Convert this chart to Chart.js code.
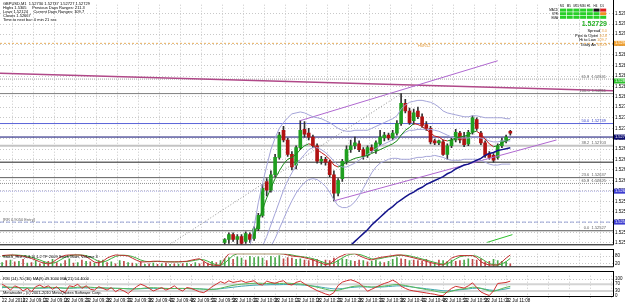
<!DOCTYPE html>
<html>
<head>
<meta charset="utf-8">
<script src="https://cdn.jsdelivr.net/npm/chart.js@4.4.1/dist/chart.umd.min.js"></script>
<style>
  body { margin: 0; background: #fff; }
  #wrap { position: relative; width: 625px; height: 304px; overflow: hidden; }
  canvas { position: absolute; left: 0; }
</style>
</head>
<body>
<div id="wrap">
  <canvas id="main" width="625" height="249" style="top:0"></canvas>
  <canvas id="stoch" width="625" height="22" style="top:249px"></canvas>
  <canvas id="rsi" width="625" height="33" style="top:271px"></canvas>
</div>
<script>
// ---- data -------------------------------------------------------------
const X_MIN = -0.5, X_MAX = 145.45

const tickLabels = ['22 Jul 2010', '22 Jul 09:13', '22 Jul 09:18', '22 Jul 09:23', '22 Jul 09:28', '22 Jul 09:33',
  '22 Jul 09:38', '22 Jul 09:43', '22 Jul 09:48', '22 Jul 09:53', '22 Jul 09:58', '22 Jul 10:03', '22 Jul 10:08',
  '22 Jul 10:13', '22 Jul 10:18', '22 Jul 10:23', '22 Jul 10:28', '22 Jul 10:33', '22 Jul 10:38', '22 Jul 10:43',
  '22 Jul 10:48', '22 Jul 10:53', '22 Jul 10:58', '22 Jul 11:03', '22 Jul 11:08']

const priceTicks = [1.52977, 1.52955, 1.52934, 1.52912, 1.52891, 1.52869, 1.52847, 1.52826, 1.52804, 1.52783,
  1.52761, 1.52739, 1.52717, 1.52696, 1.52675, 1.52653, 1.52631, 1.52610, 1.52588, 1.52567, 1.52545, 1.52523, 1.52502]

// candles, first one is bar 53 (older bars are below the visible range)
const CANDLE_START = 53
const opens = [1.52503,1.52509,1.52519,1.52509,1.52515,1.52505,1.52519,1.52511,1.52531,1.52559,
  1.52629,1.52611,1.52643,1.52679,1.52735,1.52715,1.52685,1.52663,1.52699,1.52737,
  1.52729,1.52721,1.52703,1.52671,1.52675,1.52669,1.52643,1.52605,1.52635,1.52671,
  1.52695,1.52703,1.52707,1.52695,1.52683,1.52699,1.52693,1.52707,1.52719,1.52725,
  1.52719,1.52729,1.52749,1.52791,1.52775,1.52755,1.52775,1.52763,1.52747,1.52739,
  1.52713,1.52709,1.52711,1.52685,1.52703,1.52715,1.52729,1.52719,1.52707,1.52731,
  1.52757,1.52729,1.52709,1.52687,1.52683,1.52679,1.52703,1.52713,1.52733]
const highs = [1.52511,1.52523,1.52523,1.52519,1.52519,1.52525,1.52523,1.52535,1.52563,1.52623,
  1.52635,1.52651,1.52685,1.52731,1.52743,1.52719,1.52691,1.52703,1.52755,1.52753,
  1.52739,1.52725,1.52707,1.52681,1.52679,1.52673,1.52651,1.52635,1.52675,1.52703,
  1.52715,1.52721,1.52713,1.52699,1.52703,1.52705,1.52713,1.52735,1.52731,1.52729,
  1.52735,1.52755,1.52811,1.52799,1.52781,1.52779,1.52783,1.52769,1.52753,1.52743,
  1.52717,1.52715,1.52715,1.52707,1.52719,1.52737,1.52733,1.52731,1.52735,1.52765,
  1.52761,1.52733,1.52713,1.52691,1.52687,1.52707,1.52719,1.52725,1.52735]
const lows = [1.52495,1.52501,1.52505,1.52497,1.52497,1.52501,1.52503,1.52507,1.52527,1.52555,
  1.52599,1.52607,1.52639,1.52675,1.52711,1.52681,1.52653,1.52655,1.52695,1.52721,
  1.52715,1.52699,1.52667,1.52665,1.52663,1.52639,1.52589,1.52599,1.52629,1.52665,
  1.52689,1.52697,1.52691,1.52675,1.52679,1.52689,1.52687,1.52703,1.52713,1.52715,
  1.52715,1.52725,1.52745,1.52771,1.52747,1.52747,1.52759,1.52741,1.52735,1.52707,
  1.52705,1.52705,1.52683,1.52675,1.52699,1.52711,1.52709,1.52701,1.52703,1.52727,
  1.52735,1.52705,1.52679,1.52675,1.52669,1.52675,1.52699,1.52709,1.52725]
const closes = [1.52509,1.52519,1.52509,1.52515,1.52501,1.52521,1.52509,1.52531,1.52559,1.52615,
  1.52611,1.52643,1.52679,1.52725,1.52715,1.52685,1.52659,1.52699,1.52735,1.52727,
  1.52721,1.52703,1.52671,1.52675,1.52669,1.52643,1.52605,1.52631,1.52671,1.52695,
  1.52703,1.52709,1.52695,1.52681,1.52699,1.52693,1.52709,1.52721,1.52725,1.52719,
  1.52729,1.52749,1.52791,1.52775,1.52751,1.52771,1.52763,1.52745,1.52739,1.52711,
  1.52709,1.52713,1.52685,1.52703,1.52715,1.52731,1.52715,1.52705,1.52731,1.52761,
  1.52739,1.52709,1.52683,1.52679,1.52673,1.52703,1.52713,1.52721,1.52729]

// fast MA (green rising / red falling), starts at bar 60
const MA_START = 60
const maFast = [1.52515,1.52545,1.52571,1.52595,1.52615,1.52635,1.52651,1.52665,1.52675,1.52679,
  1.52685,1.52695,1.52703,1.52707,1.52705,1.52695,1.52689,1.52683,1.52675,1.52663,
  1.52659,1.52663,1.52669,1.52673,1.52677,1.52679,1.52681,1.52683,1.52687,1.52691,
  1.52695,1.52699,1.52703,1.52707,1.52713,1.52725,1.52735,1.52741,1.52749,1.52747,
  1.52743,1.52737,1.52729,1.52723,1.52721,1.52715,1.52713,1.52715,1.52719,1.52721,
  1.52723,1.52725,1.52731,1.52733,1.52727,1.52717,1.52707,1.52701,1.52703,1.52709,
  1.52713,1.52717]

// bollinger bands
const BB_UP_START = 59
const bbUpper = [1.52495,1.52535,1.52585,1.52625,1.52661,1.52695,1.52719,1.52739,1.52751,1.52761,
  1.52769,1.52771,1.52773,1.52771,1.52767,1.52763,1.52761,1.52759,1.52755,1.52751,
  1.52745,1.52739,1.52735,1.52733,1.52733,1.52735,1.52735,1.52735,1.52735,1.52739,
  1.52743,1.52747,1.52751,1.52755,1.52759,1.52765,1.52779,1.52787,1.52793,1.52795,
  1.52797,1.52797,1.52795,1.52793,1.52789,1.52783,1.52775,1.52771,1.52769,1.52767,
  1.52765,1.52763,1.52763,1.52765,1.52765,1.52763,1.52761,1.52761,1.52761,1.52761,
  1.52761,1.52759,1.52759]
const BB_MID_START = 62
const bbMiddle = [1.52495,1.52515,1.52539,1.52563,1.52587,1.52611,1.52631,1.52647,1.52663,1.52675,
  1.52685,1.52695,1.52699,1.52699,1.52695,1.52689,1.52681,1.52671,1.52663,1.52659,
  1.52659,1.52663,1.52667,1.52673,1.52679,1.52685,1.52691,1.52697,1.52703,1.52707,
  1.52711,1.52715,1.52719,1.52725,1.52731,1.52735,1.52735,1.52737,1.52737,1.52737,
  1.52737,1.52735,1.52733,1.52729,1.52725,1.52721,1.52719,1.52719,1.52719,1.52719,
  1.52721,1.52721,1.52719,1.52717,1.52713,1.52711,1.52711,1.52713,1.52713,1.52713]
const BB_LOW_START = 64
const bbLower = [1.52495,1.52511,1.52531,1.52551,1.52571,1.52589,1.52605,1.52617,1.52627,1.52633,
  1.52635,1.52633,1.52627,1.52619,1.52607,1.52591,1.52579,1.52575,1.52575,1.52579,
  1.52587,1.52599,1.52615,1.52631,1.52647,1.52659,1.52667,1.52671,1.52675,1.52677,
  1.52677,1.52675,1.52675,1.52675,1.52677,1.52679,1.52679,1.52681,1.52681,1.52683,
  1.52681,1.52679,1.52675,1.52673,1.52673,1.52673,1.52675,1.52675,1.52675,1.52675,
  1.52673,1.52669,1.52665,1.52663,1.52663,1.52665,1.52665,1.52665]

// slow MA (navy), starts at bar 83
const SLOW_START = 83
const maSlow = [1.52497,1.52505,1.52513,1.52521,1.52529,1.52539,1.52547,1.52555,1.52563,1.52571,
  1.52577,1.52585,1.52591,1.52597,1.52603,1.52607,1.52613,1.52617,1.52623,1.52627,
  1.52631,1.52635,1.52639,1.52645,1.52649,1.52655,1.52659,1.52663,1.52665,1.52669,
  1.52673,1.52677,1.52683,1.52687,1.52689,1.52693,1.52695,1.52697,1.52699]

// horizontal objects
const levelPrices = [1.52915, 1.52841, 1.52811, 1.52749, 1.52721, 1.52703, 1.52669, 1.52637, 1.52625, 1.52609, 1.52545, 1.52527]
const levelTexts = ['', '61.8  1.52841', '100.0  1.52811', '50.0  1.52749', '', '38.2  1.52703', '', '23.6  1.52637', '61.8  1.52625', '', '', '0.0  1.52527']

// trend lines [bar, price]
const channelUpper = [[71, 1.52755], [118, 1.52879]]
const channelLower = [[79, 1.52589], [132, 1.52715]]
const longTrend = [[X_MIN, 1.52853], [X_MAX, 1.52817]]
const fiboBase = [[40, 1.52499], [95, 1.52811]]
const greenRay = [[115.5, 1.52503], [121.5, 1.52519]]

// stochastic panel
const stochMain = [85,88,90,88,85,80,72,62,50,35, 25,18,30,55,75,87,90,90,90,88,
  78,55,33,27,40,65,80,90,88,86, 82,65,48,35,35,37,40,40,37,35,
  35,35,36,38,40,48,55,60,40,18, 10,7,8,60,100,100,100,100,100,100,
  100,100,100,100,100,100,100,98,90,82, 78,75,68,60,50,38,25,12,20,45,
  70,85,100,100,100,85,70,58,50,62, 70,75,80,85,90,90,83,75,67,58,
  50,40,30,22,15,10,35,65,78,85, 85,85,85,70,35,20,10,10,10,35, 65,90]
const stochSignal = [80,84,87,89,88,85,80,72,62,50, 37,27,24,34,53,72,84,89,90,89,
  85,74,56,38,33,44,62,78,86,88, 85,78,65,50,40,36,37,39,39,37,
  36,35,35,36,38,42,48,54,52,40, 23,12,8,25,56,86,100,100,100,100,
  100,100,100,100,100,100,100,99,96,90, 83,78,74,68,60,50,38,25,19,26,
  45,67,85,95,100,95,85,71,59,57, 61,69,75,80,85,88,88,83,75,67,
  58,49,40,31,22,16,20,37,59,76, 83,85,85,80,63,42,22,13,10,18, 37,63]
// histogram: positive = up bar, negative = down bar
const stochHist = [30,-45,50,-35,40,-55,25,-30,45,-20, 35,-40,55,-30,20,-45,60,-25,30,-50,
  40,-35,25,-45,50,-30,35,-20,45,-40, 30,-25,20,-35,15,-20,25,-15,20,-25,
  15,-20,18,-22,25,-15,30,-20,-35,-25, 40,-30,45,60,70,-55,75,65,-50,80,
  70,75,65,-45,80,70,85,-60,-70,-65, 55,60,-50,-45,-60,-55,40,-50,-45,-65,
  50,60,55,45,-40,-50,45,-35,40,50, 35,-30,40,55,70,-60,-55,45,-50,-45,
  -40,-55,-35,30,-50,45,40,50,-40,-45, 50,60,-55,-50,-60,-35,-40,55,45,40, 35,-20]

// rsi panel
const rsiFast = [70,55,35,60,50,30,45,25,55,65, 50,60,40,55,30,20,60,55,70,45,
  60,40,35,55,45,35,50,25,40,30, 15,35,55,70,60,45,30,40,50,35,
  45,60,40,30,50,45,35,25,20,35, 55,70,85,75,90,80,85,90,80,85,
  90,70,65,88,80,75,85,90,70,65, 80,88,72,58,45,32,22,12,5,20,
  62,82,90,96,88,76,55,28,40,52, 64,74,82,94,80,58,45,35,30,26,
  22,18,14,10,4,2,25,45,57,52, 47,60,78,50,24,12,3,30,74,77, 80,88]
const rsiSlow = [55,54,52,51,50,49,48,47,47,48, 50,51,51,50,48,46,47,49,52,53,
  53,52,50,49,48,47,46,46,45,44, 42,41,42,44,47,49,49,48,46,45,
  44,44,45,45,44,43,43,42,40,38, 38,41,46,52,58,63,67,70,72,74,
  75,76,75,74,75,75,74,75,76,74, 72,71,68,63,58,52,46,40,34,31,
  34,40,47,54,58,60,58,55,53,54, 56,59,62,66,68,66,62,57,52,47,
  43,38,34,29,24,21,22,28,35,40, 43,47,52,51,46,38,30,27,35,44, 51,57]
const rsiSignal = [50,50,49,49,48,48,47,47,46,46, 46,47,47,47,47,46,46,46,47,48,
  48,48,48,47,47,46,46,45,45,44, 43,43,43,43,44,45,45,45,45,44,
  44,44,44,44,44,43,43,42,41,40, 40,41,43,46,49,52,55,58,60,62,
  64,65,66,66,67,67,67,68,68,68, 67,66,64,62,59,56,52,48,45,42,
  42,44,47,50,52,54,54,53,52,52, 53,54,56,58,60,60,58,55,52,49,
  46,43,40,37,34,31,30,31,34,37, 39,42,45,46,44,40,36,33,34,38, 42,47]
const rsiLevels = [70, 30]

const infoLines = ['GBPUSD,M1  1.52730 1.52737 1.52727 1.52729',
  'Highs 1.5305     Previous Days Ranges: 211.3',
  'Lows 1.52124     Current Days Ranges: 109.7',
  'Closes 1.52667',
  'Time to next bar: 0 min 21 sec']

// ---- helpers ----------------------------------------------------------
const FONT = '"Liberation Sans", Arial, sans-serif'
const series = (start, vals) => vals.map((v, k) => ({ x: start + k, y: v }))
const pts = arr => arr.map(p => ({ x: p[0], y: p[1] }))
const flat = v => [{ x: X_MIN, y: v }, { x: X_MAX, y: v }]

function line(data, color, width, dash, order) {
  return { type: 'line', data: data, borderColor: color, borderWidth: width || 1,
    borderDash: dash || [], pointRadius: 0, fill: false, tension: 0, order: order || 5 }
}

function xAxis(labels) {
  return {
    type: 'linear', min: X_MIN, max: X_MAX, offset: false,
    grid: { color: '#c8c8c8', drawTicks: !!labels, tickLength: 2 },
    border: { display: false, dash: [1, 2] },
    ticks: labels ? {
      stepSize: 5, includeBounds: false, autoSkip: false, maxRotation: 0, align: 'start', padding: 0,
      color: '#000', font: { family: FONT, size: 4.5 },
      callback: v => (v % 5 === 0 && tickLabels[v / 5]) || ''
    } : { display: false, stepSize: 5, includeBounds: false },
    afterFit: s => { s.height = labels ? 8 : 0 }
  }
}

function yAxis(min, max, ticks, fmt) {
  return {
    position: 'right', min: min, max: max,
    grid: { color: '#c8c8c8', drawTicks: false },
    border: { display: false, dash: [1, 2] },
    ticks: { autoSkip: false, padding: 2, color: '#000', font: { family: FONT, size: 4.5 }, callback: fmt },
    afterBuildTicks: s => { s.ticks = ticks.map(v => ({ value: v })) },
    afterFit: s => { s.width = 12 }
  }
}

// frame of each pane: thick black separators like the terminal
function frame(topWidth) {
  return {
    id: 'frame',
    afterDraw(chart) {
      const { ctx, chartArea: a } = chart
      ctx.save()
      ctx.strokeStyle = '#000'
      ctx.lineWidth = 1
      ctx.beginPath()
      ctx.moveTo(a.right + 0.5, 0); ctx.lineTo(a.right + 0.5, a.bottom + 0.5)
      ctx.moveTo(0, a.bottom + 0.5); ctx.lineTo(a.right + 0.5, a.bottom + 0.5)
      if (topWidth) { ctx.moveTo(0, 0.5); ctx.lineTo(a.right + 0.5, 0.5) }
      ctx.stroke()
      ctx.restore()
    }
  }
}

// ---- main pane --------------------------------------------------------
const levelStyles = [
  { c: '#e8b060', w: 1, d: [2, 2] }, { c: '#a0a0a0', w: 1, d: [1, 1] }, { c: '#808080', w: 1 },
  { c: '#5a64d8', w: 1 }, { c: '#0a0a70', w: 1 }, { c: '#c4c4c4', w: 2 }, { c: '#202020', w: 1 },
  { c: '#606060', w: 1 }, { c: '#909090', w: 1, d: [1, 1] }, { c: '#a8a8e0', w: 1, d: [1, 1] },
  { c: '#9aa4d8', w: 1, d: [4, 2] }, { c: '#505050', w: 1 }]

const mainDatasets = [
  line(series(MA_START, maFast), '#1a8a1a', 1, null, 1),
  line(series(SLOW_START, maSlow), '#14148c', 1.5, null, 1),
  line(series(BB_UP_START, bbUpper), '#a4a4d8', 1, null, 2),
  line(series(BB_MID_START, bbMiddle), '#a4a4d8', 1, null, 2),
  line(series(BB_LOW_START, bbLower), '#a4a4d8', 1, null, 2),
  line(pts(channelUpper), '#b068d0', 1, null, 2),
  line(pts(channelLower), '#b068d0', 1, null, 2),
  line(pts(longTrend), '#b04888', 1.5, null, 2),
  line(pts(fiboBase), '#909090', 1, [1, 2], 2),
  line(pts(greenRay), '#30c030', 1, null, 2),
  {
    type: 'bar', order: 3, grouped: false, barThickness: 3, minBarLength: 1, borderWidth: 0,
    data: opens.map((o, k) => ({ x: CANDLE_START + k, y: [o, closes[k]] })),
    backgroundColor: opens.map((o, k) => closes[k] >= o ? '#1f9f1f' : '#b01212')
  },
  {
    type: 'bar', order: 4, grouped: false, barThickness: 1, borderWidth: 0,
    data: highs.map((h, k) => ({ x: CANDLE_START + k, y: [lows[k], h] })),
    backgroundColor: '#303030'
  }
]
levelPrices.forEach((p, k) => {
  const s = levelStyles[k]
  mainDatasets.push(line(flat(p), s.c, s.w, s.d, 6))
})
// fast MA turns red on falling segments
mainDatasets[0].segment = { borderColor: c => c.p1.parsed.y >= c.p0.parsed.y ? '#1a8a1a' : '#c01818' }

const signalRows = ['MACD', 'STR', 'EMA']
const signalCols = ['M1', 'M5', 'M15', 'M30', 'H1', 'H4', 'D1']
const signalCells = [
  ['g', 'g', 'g', 'g', 'g', 'k', 'r'],
  ['g', 'g', 'g', 'g', 'g', 'g', 'o'],
  ['g', 'g', 'g', 'g', 'g', 'g', 'g']]
const priceBoxes = [[1.52915, '#f0a030'], [1.52837, '#2cc02c'], [1.52721, '#0a0a70'], [1.52609, '#3c3cd0'], [1.52545, '#3c3cd0']]

const mainText = {
  id: 'mainText',
  afterDraw(chart) {
    const { ctx } = chart
    const y = chart.scales.y
    ctx.save()
    ctx.textBaseline = 'top'
    ctx.font = '4px ' + FONT
    ctx.fillStyle = '#000'
    infoLines.forEach((t, k) => ctx.fillText(t, 3, 1.5 + k * 4))

    // level captions on the right
    ctx.textAlign = 'right'
    ctx.textBaseline = 'bottom'
    levelPrices.forEach((p, k) => {
      if (!levelTexts[k]) return
      ctx.fillStyle = k === 3 ? '#3c46c8' : '#606060'
      ctx.fillText(levelTexts[k], 606, y.getPixelForValue(p) - 0.5)
    })
    ctx.textAlign = 'left'
    ctx.fillStyle = '#606060'
    ctx.fillText('[RR 0.9050 Entry]', 3, y.getPixelForValue(1.52545) - 0.5)
    ctx.fillStyle = '#e8a040'
    ctx.fillText('H0R52', 418, y.getPixelForValue(1.52915) + 5)

    // signal matrix
    const colors = { g: '#28d028', r: '#e02020', o: '#f09020', k: '#101010' }
    ctx.font = '3px ' + FONT
    ctx.fillStyle = '#000'
    signalCols.forEach((c, j) => ctx.fillText(c, 560 + j * 6.7, 8))
    signalRows.forEach((r, i) => {
      ctx.fillStyle = '#000'
      ctx.textAlign = 'right'
      ctx.fillText(r, 558, 12 + i * 3.6)
      ctx.textAlign = 'left'
      signalCells[i].forEach((c, j) => {
        ctx.fillStyle = colors[c]
        ctx.fillRect(560 + j * 6.7, 8.6 + i * 3.6, 6, 3)
      })
    })

    ctx.textAlign = 'right'
    ctx.fillStyle = '#22b022'
    ctx.font = 'bold 7px ' + FONT
    ctx.fillText('1.52729', 607, 28)
    const stats = [['Spread', '3.0', '#e8a040'], ['Pips to Open', '10.8', '#e8a040'],
      ['Hi to Low', '109.7', '#e8a040'], ['Daily Av', '150.9', '#e8a040']]
    ctx.font = '4px ' + FONT
    stats.forEach((s, k) => {
      ctx.fillStyle = s[2]
      ctx.fillText(s[1], 607, 33 + k * 4.5)
      const w = ctx.measureText(s[1]).width
      ctx.fillStyle = '#000'
      ctx.fillText(s[0] + ' ', 607 - w, 33 + k * 4.5)
    })

    // price boxes on the axis
    ctx.textAlign = 'left'
    ctx.textBaseline = 'middle'
    priceBoxes.forEach(b => {
      const py = y.getPixelForValue(b[0])
      ctx.fillStyle = b[1]
      ctx.fillRect(614, py - 2.5, 11, 5)
      ctx.fillStyle = '#fff'
      ctx.fillText(b[0].toFixed(5), 615, py)
    })
    ctx.restore()
  }
}

new Chart(document.getElementById('main'), {
  type: 'line',
  data: { datasets: mainDatasets },
  options: {
    responsive: false, animation: false, devicePixelRatio: 1,
    layout: { padding: { top: 0, right: 0, bottom: 1, left: 0 } },
    plugins: { legend: { display: false }, tooltip: { enabled: false } },
    scales: {
      x: xAxis(false),
      y: yAxis(1.52499, 1.52995, priceTicks, v => v.toFixed(5))
    }
  },
  plugins: [frame(false), mainText]
})

// ---- stochastic pane --------------------------------------------------
const paneLabel = (text) => ({
  id: 'paneLabel',
  afterDraw(chart) {
    const { ctx, chartArea: a } = chart
    ctx.save()
    ctx.font = '4px ' + FONT
    ctx.fillStyle = '#000'
    ctx.textBaseline = 'top'
    ctx.fillText(text, 3, a.top + 1)
    ctx.restore()
  }
})

new Chart(document.getElementById('stoch'), {
  type: 'line',
  data: {
    datasets: [
      line(series(0, stochMain), '#c03030', 1, null, 1),
      line(series(0, stochSignal), '#40b040', 1, null, 2),
      { type: 'bar', order: 3, grouped: false, barThickness: 1, borderWidth: 0,
        data: stochHist.map((v, k) => ({ x: k, y: Math.abs(v) })),
        backgroundColor: stochHist.map(v => v > 0 ? '#4aa84a' : '#c04848') }
    ]
  },
  options: {
    responsive: false, animation: false, devicePixelRatio: 1,
    layout: { padding: { top: 1, right: 0, bottom: 1, left: 0 } },
    plugins: { legend: { display: false }, tooltip: { enabled: false } },
    scales: { x: xAxis(false), y: yAxis(0, 100, [80, 20], v => String(v)) }
  },
  plugins: [frame(true), paneLabel('Stoch_Hist (5,3,3) 1.2 TF 2009 Stoch Main, Volume 3')]
})

// ---- rsi pane ---------------------------------------------------------
const rsiDatasets = [
  line(series(0, rsiFast), '#d03030', 1, null, 1),
  line(series(0, rsiSlow), '#58b858', 1, null, 2),
  line(series(0, rsiSignal), '#40a8b0', 1, null, 3)
]
rsiLevels.forEach(v => rsiDatasets.push(line(flat(v), '#d4d4d4', 2, null, 6)))

new Chart(document.getElementById('rsi'), {
  type: 'line',
  data: { datasets: rsiDatasets },
  options: {
    responsive: false, animation: false, devicePixelRatio: 1,
    layout: { padding: { top: 1, right: 0, bottom: 0, left: 0 } },
    plugins: { legend: { display: false }, tooltip: { enabled: false } },
    scales: { x: xAxis(true), y: yAxis(0, 120, [100, 70, 30, 0], v => String(v)) }
  },
  plugins: [frame(true), paneLabel('RSI (14) 70 (30) MA(9) 49.3000 MA(21) 54.4000'), {
    id: 'copy',
    afterDraw(chart) {
      const { ctx, chartArea: a } = chart
      ctx.save()
      ctx.font = '4px ' + FONT
      ctx.fillStyle = '#000'
      ctx.fillText('Metatrader - (c) 2001-2010 MetaQuotes Software Corp.', 3, a.bottom - 2)
      ctx.restore()
    }
  }]
})
</script>
</body>
</html>
